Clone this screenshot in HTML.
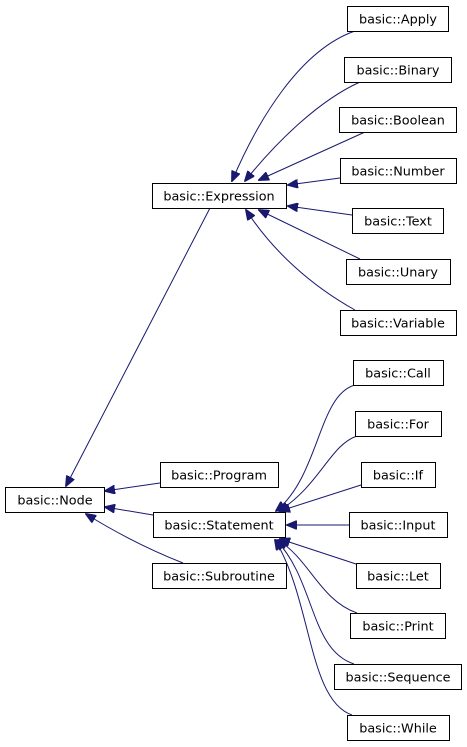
<!DOCTYPE html>
<html><head><meta charset="utf-8"><style>
html,body{margin:0;padding:0;background:#fff;width:467px;height:747px;overflow:hidden}
svg text{font-family:"DejaVu Sans","Liberation Sans",sans-serif;font-size:12.8px;fill:#000;text-anchor:middle}
rect{fill:#fff;stroke:#000;stroke-width:1}
path.e{fill:none;stroke:#191970;stroke-width:1}
</style></head><body>
<svg width="467" height="747" viewBox="0 0 467 747" xmlns="http://www.w3.org/2000/svg">
<defs><marker id="a" markerWidth="11" markerHeight="9" refX="10" refY="4.5" orient="auto" markerUnits="userSpaceOnUse"><path d="M0,0 L11,4.5 L0,9 z" fill="#191970" stroke="#191970"/></marker></defs>
<g>
<path class="e" marker-end="url(#a)" d="M355,31 C300,50 258,120 232,181"/>
<path class="e" marker-end="url(#a)" d="M360,82 C320,100 278,140 245,181"/>
<path class="e" marker-end="url(#a)" d="M365,132 L259,180"/>
<path class="e" marker-end="url(#a)" d="M340,178 L288,185"/>
<path class="e" marker-end="url(#a)" d="M352,215 L288,206"/>
<path class="e" marker-end="url(#a)" d="M360,259 L259,210"/>
<path class="e" marker-end="url(#a)" d="M355,310 C310,285 272,250 246,210"/>
<path class="e" marker-end="url(#a)" d="M210,208 L66,486"/>
<path class="e" marker-end="url(#a)" d="M160,483 L105,491"/>
<path class="e" marker-end="url(#a)" d="M153,515 L105,507"/>
<path class="e" marker-end="url(#a)" d="M183,563 C150,550 115,532 86,514"/>
<path class="e" marker-end="url(#a)" d="M355,385 C318,395 320,475 276,511"/>
<path class="e" marker-end="url(#a)" d="M357,436 C330,445 320,485 279,511"/>
<path class="e" marker-end="url(#a)" d="M361,485 L280,511"/>
<path class="e" marker-end="url(#a)" d="M349,525 L287,525"/>
<path class="e" marker-end="url(#a)" d="M356,564 L280,539"/>
<path class="e" marker-end="url(#a)" d="M357,613 C320,600 310,560 278,540"/>
<path class="e" marker-end="url(#a)" d="M354,664 C310,650 315,580 276,540"/>
<path class="e" marker-end="url(#a)" d="M352,715 C308,700 312,600 275,540"/>
</g>
<rect x="347.5" y="6.5" width="101" height="25"/><text x="398" y="23.5">basic::Apply</text>
<rect x="344.5" y="57.5" width="107" height="25"/><text x="398" y="74.5">basic::Binary</text>
<rect x="339.5" y="107.5" width="117" height="25"/><text x="398" y="124.5">basic::Boolean</text>
<rect x="340.5" y="158.5" width="116" height="25"/><text x="398" y="175.5">basic::Number</text>
<rect x="352.5" y="208.5" width="91" height="25"/><text x="398" y="225.5">basic::Text</text>
<rect x="346.5" y="259.5" width="104" height="25"/><text x="398" y="276.5">basic::Unary</text>
<rect x="340.5" y="310.5" width="116" height="25"/><text x="398" y="327.5">basic::Variable</text>
<rect x="152.5" y="183.5" width="134" height="25"/><text x="219" y="200.5">basic::Expression</text>
<rect x="353.5" y="360.5" width="90" height="25"/><text x="398" y="377.5">basic::Call</text>
<rect x="355.5" y="411.5" width="86" height="25"/><text x="398" y="428.5">basic::For</text>
<rect x="361.5" y="462.5" width="74" height="25"/><text x="398" y="479.5">basic::If</text>
<rect x="349.5" y="512.5" width="98" height="25"/><text x="398" y="529.5">basic::Input</text>
<rect x="356.5" y="563.5" width="84" height="25"/><text x="398" y="580.5">basic::Let</text>
<rect x="350.5" y="613.5" width="95" height="25"/><text x="398" y="630.5">basic::Print</text>
<rect x="334.5" y="664.5" width="127" height="25"/><text x="398" y="681.5">basic::Sequence</text>
<rect x="347.5" y="715.5" width="102" height="25"/><text x="398" y="732.5">basic::While</text>
<rect x="5.5" y="487.5" width="99" height="25"/><text x="55" y="504.5">basic::Node</text>
<rect x="160.5" y="462.5" width="118" height="25"/><text x="219" y="479.5">basic::Program</text>
<rect x="153.5" y="512.5" width="132" height="25"/><text x="219" y="529.5">basic::Statement</text>
<rect x="152.5" y="563.5" width="134" height="25"/><text x="219" y="580.5">basic::Subroutine</text>
</svg>
</body></html>
